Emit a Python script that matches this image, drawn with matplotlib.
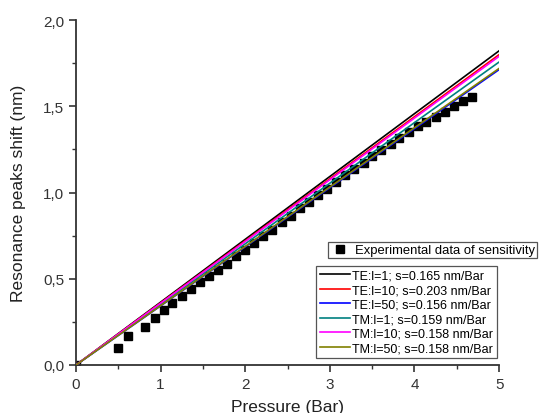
import matplotlib
matplotlib.use("Agg")
from matplotlib import pyplot as plt
from matplotlib.ticker import MultipleLocator, FuncFormatter

plt.rcParams['font.family'] = ['Liberation Sans', 'DejaVu Sans']

# experimental points
exp_x = [0.0, 0.50, 0.61, 0.82, 0.93, 1.04, 1.14, 1.25, 1.36, 1.46, 1.57, 1.68, 1.78,
         1.89, 2.00, 2.10, 2.21, 2.32, 2.43, 2.54, 2.65, 2.75, 2.86, 2.97, 3.07,
         3.18, 3.29, 3.40, 3.50, 3.61, 3.72, 3.82, 3.93, 4.04, 4.14, 4.25, 4.36,
         4.47, 4.57, 4.68]
exp_y = [0.0, 0.10, 0.17, 0.22, 0.27, 0.32, 0.36, 0.40, 0.44, 0.48, 0.515, 0.55, 0.585,
         0.63, 0.668, 0.707, 0.746, 0.784, 0.827, 0.866, 0.908, 0.947, 0.985, 1.02,
         1.06, 1.10, 1.135, 1.17, 1.21, 1.245, 1.28, 1.315, 1.35, 1.385, 1.41,
         1.44, 1.47, 1.50, 1.53, 1.555]

# simulated lines: start and end of each
line_x = [0, 5]
line_labels = ['TE:l=1; s=0.165 nm/Bar', 'TE:l=10; s=0.203 nm/Bar',
               'TE:l=50; s=0.156 nm/Bar', 'TM:l=1; s=0.159 nm/Bar',
               'TM:l=10; s=0.158 nm/Bar', 'TM:l=50; s=0.158 nm/Bar']
line_end = [1.822, 1.800, 1.713, 1.757, 1.790, 1.720]
line_colors = ['#000000', '#ff0000', '#0000ff', '#008080', '#ff00ff', '#808000']

fig = plt.figure(figsize=(5.39, 4.14), dpi=100)
ax = fig.add_axes([0.141, 0.116, 0.785, 0.833])

pts, = ax.plot(exp_x, exp_y, 's', color='black', ms=5.5, ls='none',
               label='Experimental data of sensitivity', zorder=2)

handles = []
for lab, end, col in zip(line_labels, line_end, line_colors):
    h, = ax.plot(line_x, [0, end], color=col, lw=1.2, label=lab, zorder=3)
    handles.append(h)

ax.set_xlim(0, 5)
ax.set_ylim(0, 2.0)
ax.xaxis.set_major_locator(MultipleLocator(1))
ax.xaxis.set_minor_locator(MultipleLocator(0.5))
ax.yaxis.set_major_locator(MultipleLocator(0.5))
ax.yaxis.set_minor_locator(MultipleLocator(0.25))
ax.yaxis.set_major_formatter(FuncFormatter(lambda v, p: f'{v:.1f}'.replace('.', ',')))
ax.xaxis.set_major_formatter(FuncFormatter(lambda v, p: f'{v:.0f}'))

for s in ['top', 'right']:
    ax.spines[s].set_visible(False)
for s in ['left', 'bottom']:
    ax.spines[s].set_color('#333333')
    ax.spines[s].set_linewidth(1.3)
ax.tick_params(which='major', direction='out', length=5, width=1.2, color='#333333',
               labelsize=11, labelcolor='#333333')
ax.tick_params(which='minor', direction='out', length=3, width=1.0, color='#333333')

ax.set_xlabel('Pressure (Bar)', fontsize=12.5, color='#222222', labelpad=6)
ax.set_ylabel('Resonance peaks shift (nm)', fontsize=12.5, color='#222222', labelpad=12)

leg1 = fig.legend(handles=[pts], loc='upper left',
                  bbox_to_anchor=(328 / 539, 1 - 243 / 414), fontsize=9.4,
                  fancybox=False, framealpha=1, edgecolor='#555555',
                  borderpad=0.15, handletextpad=0.4, handlelength=1.5,
                  borderaxespad=0)
leg1.get_frame().set_linewidth(0.9)

leg2 = fig.legend(handles=handles, loc='upper left',
                  bbox_to_anchor=(316 / 539, 1 - 267 / 414), fontsize=9,
                  fancybox=False, framealpha=1, edgecolor='#555555',
                  borderpad=0.3, handletextpad=0.2, handlelength=2.4,
                  labelspacing=0.2, borderaxespad=0)
leg2.get_frame().set_linewidth(0.9)

plt.savefig('out.png', dpi=100)
